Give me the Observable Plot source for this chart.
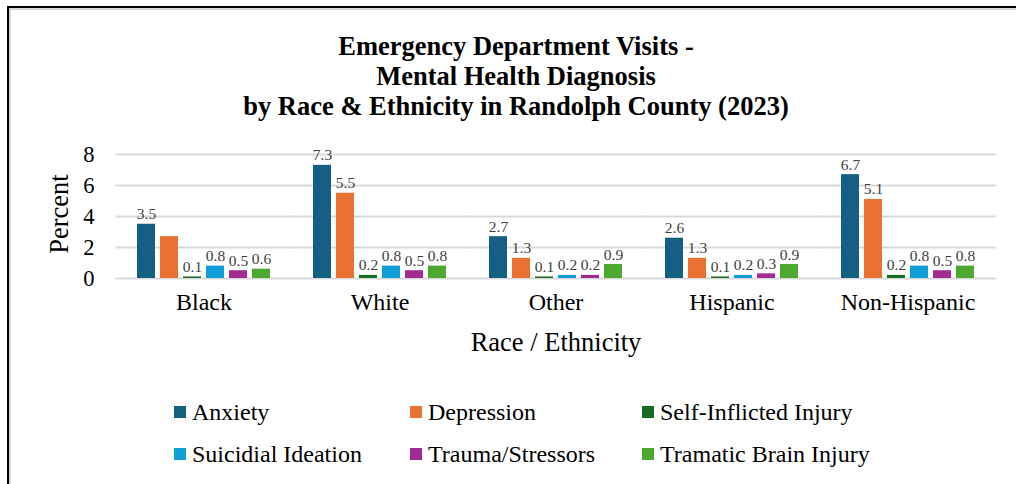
<!DOCTYPE html>
<html>
<head>
<meta charset="utf-8">
<script src="https://cdn.jsdelivr.net/npm/d3@7"></script>
<script src="https://cdn.jsdelivr.net/npm/@observablehq/plot@0.6"></script>
<style>
  html, body { margin: 0; padding: 0; background: #fff; overflow: hidden; }
  body { width: 1016px; height: 484px; position: relative; font-family: "Liberation Serif", serif; }
  #frame { position: absolute; left: 7px; top: 6px; width: 1200px; height: 700px;
    border-left: 2px solid #000; border-top: 2px solid #000; box-shadow: inset 2px 2px 0 #d6d6d6; }
  #title { position: absolute; left: 8px; width: 1016px; top: 31px; text-align: center;
    font-weight: bold; font-size: 26.5px; line-height: 30px; color: #000; }
  #chart { position: absolute; left: 0; top: 125px; }
  #ylabel { position: absolute; left: 59px; top: 214px; font-size: 26.5px; transform: translate(-50%, -50%) rotate(-90deg); white-space: nowrap; }
  #legend { position: absolute; left: 0; top: 398px; width: 1016px; }
  .lrow { position: relative; height: 42px; }
  .litem { position: absolute; top: 0; display: flex; align-items: center; font-size: 24px; color: #000; height: 28px; }
  .sw { width: 12px; height: 12px; margin-right: 6px; }
  #chart [aria-label="fx-axis label"] text { font-size: 26.5px; }
</style>
</head>
<body>
<div id="frame"></div>
<div id="title"></div>
<div id="chart"></div>
<div id="ylabel"></div>
<div id="legend"></div>
<script>
const titleLines = ["Emergency Department Visits -", "Mental Health Diagnosis", "by Race & Ethnicity in Randolph County (2023)"];
const categories = ["Black", "White", "Other", "Hispanic", "Non-Hispanic"];
const series = ["Anxiety", "Depression", "Self-Inflicted Injury", "Suicidial Ideation", "Trauma/Stressors", "Tramatic Brain Injury"];
const colors = ["#156082", "#E97132", "#196B24", "#0F9ED5", "#A02B93", "#4EA72E"];
const anxiety      = [3.5, 7.3, 2.7, 2.6, 6.7];
const depression   = [2.7, 5.5, 1.3, 1.3, 5.1];
const selfInflicted= [0.1, 0.2, 0.1, 0.1, 0.2];
const suicidal     = [0.8, 0.8, 0.2, 0.2, 0.8];
const trauma       = [0.5, 0.5, 0.2, 0.3, 0.5];
const tbi          = [0.6, 0.8, 0.9, 0.9, 0.8];
const yTicks = [0, 2, 4, 6, 8];
const xLabel = "Race / Ethnicity";
const yLabel = "Percent";
// labels not shown in the original (category, series)
const hiddenLabels = [["Black", "Depression"]];

document.getElementById("title").innerHTML = titleLines.map(t => `<div>${t.replace(/&/g, "&amp;")}</div>`).join("");
document.getElementById("ylabel").textContent = yLabel;

const seriesValues = [anxiety, depression, selfInflicted, suicidal, trauma, tbi];
const data = [];
categories.forEach((c, i) => series.forEach((s, j) => data.push({group: c, series: s, value: seriesValues[j][i]})));
const labelData = data.filter(d => !hiddenLabels.some(([c, s]) => c === d.group && s === d.series));

const fxPadOuter = 0.1, fxPadInner = 0.2;
const width = 1016, marginLeft = 114, marginRight = 19;
const fxStep = (width - marginLeft - marginRight) / (categories.length - fxPadInner + 2 * fxPadOuter);
const gridExtend = fxStep * fxPadOuter;

const chart = Plot.plot({
  width, height: 240,
  marginLeft, marginRight, marginTop: 29, marginBottom: 87,
  style: {fontFamily: "'Liberation Serif', serif", fontSize: "22.5px", color: "#000", background: "transparent"},
  fx: {domain: categories, paddingInner: fxPadInner, paddingOuter: fxPadOuter, label: xLabel, axis: "bottom",
       tickSize: 0, tickPadding: 14, labelAnchor: "center", labelOffset: 72},
  x: {domain: series, paddingInner: 0.2, paddingOuter: 0.1, axis: null},
  y: {domain: [0, 8], ticks: yTicks, tickSize: 0, tickPadding: 39, label: null, grid: false},
  color: {domain: series, range: colors},
  marks: [
    Plot.ruleY(yTicks, {stroke: "#d9d9d9", strokeWidth: 2, insetLeft: -gridExtend, insetRight: -gridExtend}),
    Plot.barY(data, {fx: "group", x: "series", y: "value", fill: "series"}),
    Plot.text(labelData, {fx: "group", x: "series", y: "value", text: d => d.value.toFixed(1),
      lineAnchor: "bottom", dy: -5, fontSize: 15.5, fill: "#404040"})
  ]
});
document.getElementById("chart").appendChild(chart);
chart.querySelectorAll('[aria-label="fx-axis tick label"] text').forEach(t => t.style.fontSize = "24px");

const legend = document.getElementById("legend");
const colLeft = [174, 410, 642];
for (let r = 0; r < 2; r++) {
  const row = document.createElement("div");
  row.className = "lrow";
  for (let c = 0; c < 3; c++) {
    const k = r * 3 + c;
    const item = document.createElement("div");
    item.className = "litem";
    item.style.left = colLeft[c] + "px";
    item.innerHTML = `<span class="sw" style="background:${colors[k]}"></span><span>${series[k]}</span>`;
    row.appendChild(item);
  }
  legend.appendChild(row);
}
</script>
</body>
</html>
